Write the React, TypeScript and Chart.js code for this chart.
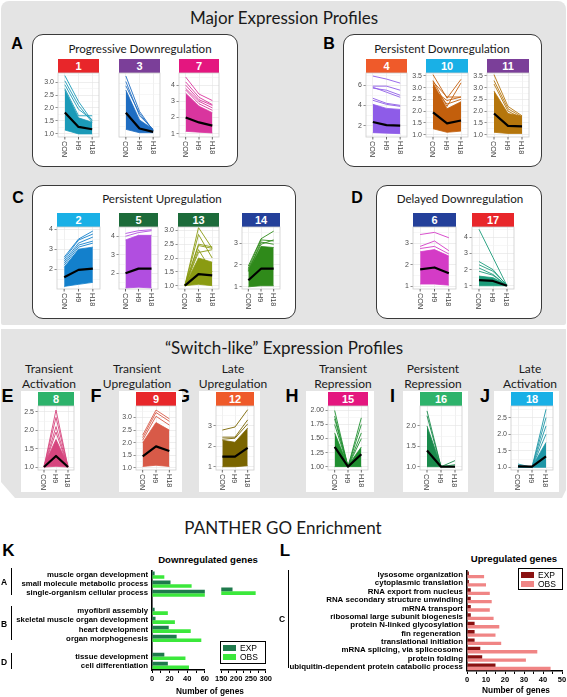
import React, { useEffect, useRef } from 'react';
import { Chart, registerables } from 'chart.js';
Chart.register(...registerables);

// ---------------- DATA ----------------
const TIMEPOINTS = ['CON', 'H9', 'H18'];
const SERIES = ['EXP', 'OBS'];

// expression clusters: envelope of the dense mass (low/high), individual outer profiles, cluster mean
const c1Low = [1.15, 1.0, 1.0];
const c1High = [2.7, 1.62, 1.45];
const c1Lines = [[3.25, 2.25, 1.5], [3.05, 2.1, 1.45], [2.75, 1.7, 1.7], [2.9, 1.95, 1.55]];
const c1Mean = [1.83, 1.27, 1.18];

const c3Low = [1.08, 1.0, 1.0];
const c3High = [2.0, 1.3, 1.08];
const c3Lines = [[2.33, 1.5, 1.05], [2.2, 1.4, 1.08], [2.1, 1.45, 1.05]];
const c3Mean = [1.47, 1.1, 1.02];

const c7Low = [1.15, 1.1, 1.05];
const c7High = [3.5, 2.7, 2.3];
const c7Lines = [[4.5, 3.45, 3.05], [4.2, 3.25, 2.8], [4.0, 3.1, 2.75], [3.8, 3.0, 2.6], [3.7, 2.85, 2.45]];
const c7Mean = [2.0, 1.7, 1.5];

const c4Low = [1.3, 1.25, 1.2];
const c4High = [4.1, 3.7, 3.6];
const c4Lines = [[6.9, 6.6, 6.2], [5.9, 5.9, 5.5], [5.7, 5.5, 5.0], [5.8, 5.3, 4.8], [4.7, 4.2, 4.0], [4.5, 4.1, 3.9]];
const c4Mean = [2.35, 2.05, 2.0];

const c10Low = [1.25, 1.1, 1.15];
const c10High = [3.2, 2.1, 2.4];
const c10Lines = [[3.55, 2.55, 3.35], [3.3, 2.2, 3.2], [3.25, 2.6, 2.6], [3.0, 2.3, 2.5], [2.9, 2.45, 2.6]];
const c10Mean = [1.95, 1.48, 1.6];

const c11Low = [1.1, 1.05, 1.05];
const c11High = [2.85, 1.9, 1.78];
const c11Lines = [[3.55, 2.2, 1.8], [3.3, 2.1, 1.75], [3.15, 2.0, 1.7]];
const c11Mean = [1.9, 1.37, 1.35];

const c2Low = [1.15, 1.25, 1.35];
const c2High = [2.1, 3.0, 3.1];
const c2Lines = [[2.6, 3.5, 3.9], [2.5, 3.45, 3.75], [2.4, 3.3, 3.6], [2.3, 3.2, 3.4], [2.2, 3.1, 3.3]];
const c2Mean = [1.6, 1.97, 2.03];

const c5Low = [1.2, 1.25, 1.2];
const c5High = [3.8, 4.05, 4.05];
const c5Lines = [[4.15, 4.3, 4.35], [4.0, 4.2, 4.3]];
const c5Mean = [2.0, 2.25, 2.25];

const c13Low = [1.0, 1.05, 1.0];
const c13High = [1.02, 2.0, 1.85];
const c13Lines = [[1.0, 3.1, 2.35], [1.0, 2.85, 2.0], [1.0, 2.5, 2.4], [1.0, 2.45, 2.35], [1.0, 2.3, 1.5], [1.0, 2.2, 2.3]];
const c13Mean = [1.0, 1.42, 1.37];

const c14Low = [1.0, 1.05, 1.05];
const c14High = [1.75, 2.85, 2.8];
const c14Lines = [[1.95, 3.2, 3.55], [1.85, 3.15, 3.1], [1.7, 3.05, 2.95], [1.8, 2.95, 3.15]];
const c14Mean = [1.3, 1.83, 1.83];

const c6Low = [1.1, 1.1, 1.05];
const c6High = [2.6, 2.7, 2.4];
const c6Lines = [[3.4, 3.5, 3.25], [2.85, 3.1, 2.65], [2.75, 2.85, 2.5]];
const c6Mean = [1.78, 1.87, 1.6];

const c17Low = [1.0, 1.0, 1.0];
const c17High = [1.6, 1.5, 1.05];
const c17Lines = [[4.5, 2.75, 1.0], [2.5, 2.0, 1.0], [2.3, 1.9, 1.05], [2.1, 1.7, 1.0], [1.9, 1.65, 1.0]];
const c17Mean = [1.35, 1.3, 1.0];

const c8Low = [1.0, 1.02, 1.0];
const c8High = [1.05, 1.75, 1.05];
const c8Lines = [[1.0, 2.55, 1.0], [1.0, 2.35, 1.0], [1.0, 2.1, 1.0], [1.0, 1.95, 1.0]];
const c8Mean = [1.0, 1.3, 1.0];

const c9Low = [1.05, 1.1, 1.05];
const c9High = [2.0, 2.8, 2.5];
const c9Lines = [[2.3, 3.3, 2.95], [2.2, 3.2, 2.85], [2.1, 3.05, 2.7]];
const c9Mean = [1.45, 1.85, 1.67];

const c12Low = [1.0, 1.0, 1.05];
const c12High = [2.3, 2.2, 2.9];
const c12Lines = [[2.8, 2.95, 3.8], [2.45, 2.45, 3.3], [2.35, 2.4, 3.1]];
const c12Mean = [1.5, 1.5, 1.93];

const c15Low = [1.0, 1.0, 1.0];
const c15High = [1.6, 1.02, 1.35];
const c15Lines = [[2.0, 1.0, 1.87], [1.9, 1.0, 1.75], [1.85, 1.0, 1.6], [1.75, 1.0, 1.5]];
const c15Mean = [1.35, 1.0, 1.22];

const c16Low = [1.0, 1.0, 1.0];
const c16High = [2.0, 1.02, 1.02];
const c16Lines = [[2.37, 1.0, 1.0], [2.25, 1.0, 1.05], [1.2, 1.0, 1.15]];
const c16Mean = [1.4, 1.0, 1.0];

const c18Low = [1.0, 1.0, 1.0];
const c18High = [1.05, 1.02, 1.75];
const c18Lines = [[1.1, 1.0, 2.75], [1.05, 1.0, 2.5], [1.02, 1.0, 2.25], [1.0, 1.0, 2.0]];
const c18Mean = [1.03, 1.02, 1.33];

// GO enrichment (K: downregulated, L: upregulated)
const kTerms = ['muscle organ development', 'small molecule metabolic process', 'single-organism cellular process', '', 'myofibril assembly', 'skeletal muscle organ development', 'heart development', 'organ morphogenesis', '', 'tissue development', 'cell differentiation'];
const kExp = [3, 21, 188, null, 3, 4, 19, 28, null, 14, 18];
const kObs = [14, 45, 266, null, 18, 26, 44, 56, null, 38, 42];

const lTerms = ['lysosome organization', 'cytoplasmic translation', 'RNA export from nucleus', 'RNA secondary structure unwinding', 'mRNA transport', 'ribosomal large subunit biogenesis', 'protein N-linked glycosylation', 'fin regeneration ', 'translational initiation', 'mRNA splicing, via spliceosome', 'protein folding', 'ubiquitin-dependent protein catabolic process'];
const lExp = [1, 1, 2, 2, 2, 2, 4, 4, 4, 7, 8, 15];
const lObs = [9, 10, 12, 13, 12, 14, 17, 15, 18, 37, 31, 44];

// ---------------- STYLE / LAYOUT ----------------
const FA = '"Liberation Sans", Arial, Helvetica, sans-serif';
const FT = 'Lato, "Open Sans", sans-serif';
const GREY = '#e4e4e4';

const RED = '#e8262a', PURPLE = '#7b3f99', MAGENTA = '#e4167f', ORANGE = '#ef5a2a', CYAN = '#19b0e6', DKGREEN = '#1c6b3a', NAVY = '#24409a', GREEN = '#2db36b';

type Panel = { id: string; low: number[]; high: number[]; lines: number[][]; mean: number[]; head: string; col: string; x0: number; x1: number; hTop: number; top: number; bottom: number; yMin: number; yMax: number; major: number; dec: number; bg?: boolean };

const RA = { hTop: 59, top: 73, bottom: 137 };
const RC = { hTop: 213, top: 227, bottom: 289 };
const RE = { hTop: 392, top: 406, bottom: 470, bg: true };

const PANELS: Panel[] = [
  { id: '1', low: c1Low, high: c1High, lines: c1Lines, mean: c1Mean, head: RED, col: '#1b9ab8', x0: 58, x1: 99, ...RA, yMin: 0.88, yMax: 3.35, major: 0.5, dec: 1 },
  { id: '3', low: c3Low, high: c3High, lines: c3Lines, mean: c3Mean, head: PURPLE, col: '#1f6dc2', x0: 119, x1: 160, ...RA, yMin: 0.9, yMax: 2.4, major: 0.5, dec: 1 },
  { id: '7', low: c7Low, high: c7High, lines: c7Lines, mean: c7Mean, head: MAGENTA, col: '#d9359e', x0: 179, x1: 219, ...RA, yMin: 0.8, yMax: 4.75, major: 1, dec: 0 },
  { id: '4', low: c4Low, high: c4High, lines: c4Lines, mean: c4Mean, head: ORANGE, col: '#8e5ce8', x0: 366, x1: 407, ...RA, yMin: 0.87, yMax: 7.2, major: 2, dec: 0 },
  { id: '10', low: c10Low, high: c10High, lines: c10Lines, mean: c10Mean, head: CYAN, col: '#c35f0c', x0: 426, x1: 468, ...RA, yMin: 0.9, yMax: 3.62, major: 0.5, dec: 1 },
  { id: '11', low: c11Low, high: c11High, lines: c11Lines, mean: c11Mean, head: PURPLE, col: '#b5760c', x0: 487, x1: 529, ...RA, yMin: 0.9, yMax: 3.62, major: 0.5, dec: 1 },
  { id: '2', low: c2Low, high: c2High, lines: c2Lines, mean: c2Mean, head: CYAN, col: '#1380cc', x0: 57, x1: 100, ...RC, yMin: 1.02, yMax: 4.1, major: 1, dec: 0 },
  { id: '5', low: c5Low, high: c5High, lines: c5Lines, mean: c5Mean, head: DKGREEN, col: '#b14ee0', x0: 119, x1: 158, ...RC, yMin: 1.15, yMax: 4.5, major: 1, dec: 0 },
  { id: '13', low: c13Low, high: c13High, lines: c13Lines, mean: c13Mean, head: DKGREEN, col: '#8a9b12', x0: 178, x1: 219, ...RC, yMin: 0.88, yMax: 3.12, major: 0.5, dec: 1 },
  { id: '14', low: c14Low, high: c14High, lines: c14Lines, mean: c14Mean, head: NAVY, col: '#2f8a1a', x0: 242, x1: 280, ...RC, yMin: 0.9, yMax: 3.74, major: 1, dec: 0 },
  { id: '6', low: c6Low, high: c6High, lines: c6Lines, mean: c6Mean, head: NAVY, col: '#d43bc6', x0: 413, x1: 456, ...RC, yMin: 0.87, yMax: 3.75, major: 1, dec: 0 },
  { id: '17', low: c17Low, high: c17High, lines: c17Lines, mean: c17Mean, head: RED, col: '#1c9c7a', x0: 472, x1: 514, ...RC, yMin: 0.8, yMax: 4.64, major: 1, dec: 0 },
  { id: '8', low: c8Low, high: c8High, lines: c8Lines, mean: c8Mean, head: GREEN, col: '#d6457e', x0: 38, x1: 74, ...RE, yMin: 0.92, yMax: 2.66, major: 0.5, dec: 1 },
  { id: '9', low: c9Low, high: c9High, lines: c9Lines, mean: c9Mean, head: RED, col: '#d85a48', x0: 136, x1: 176, ...RE, yMin: 0.91, yMax: 3.46, major: 0.5, dec: 1 },
  { id: '12', low: c12Low, high: c12High, lines: c12Lines, mean: c12Mean, head: ORANGE, col: '#7a6500', x0: 216, x1: 254, ...RE, yMin: 0.84, yMax: 3.98, major: 1, dec: 0 },
  { id: '15', low: c15Low, high: c15High, lines: c15Lines, mean: c15Mean, head: MAGENTA, col: '#1f8f30', x0: 328, x1: 368, ...RE, yMin: 0.94, yMax: 2.08, major: 0.25, dec: 2 },
  { id: '16', low: c16Low, high: c16High, lines: c16Lines, mean: c16Mean, head: GREEN, col: '#1a8a4c', x0: 420, x1: 462, ...RE, yMin: 0.92, yMax: 2.49, major: 0.5, dec: 1 },
  { id: '18', low: c18Low, high: c18High, lines: c18Lines, mean: c18Mean, head: CYAN, col: '#1f96a6', x0: 511, x1: 553, ...RE, yMin: 0.92, yMax: 2.85, major: 0.5, dec: 1 },
];

// ---------------- PLUGINS ----------------
const framePlugin = {
  id: 'frame',
  afterDatasetsDraw(chart: any) {
    const { left, top, right, bottom } = chart.chartArea;
    const ctx = chart.ctx;
    ctx.save();
    ctx.strokeStyle = '#cdcdcd';
    ctx.lineWidth = 0.8;
    ctx.strokeRect(left, top, right - left, bottom - top);
    ctx.restore();
  },
};

const xLabelPlugin = {
  id: 'xRot',
  afterDraw(chart: any) {
    const xs = chart.scales.x;
    const ctx = chart.ctx;
    const b = chart.chartArea.bottom;
    ctx.save();
    (chart.data.labels as string[]).forEach((lab, i) => {
      const x = xs.getPixelForTick(i);
      ctx.strokeStyle = '#444';
      ctx.lineWidth = 0.8;
      ctx.beginPath();
      ctx.moveTo(x, b);
      ctx.lineTo(x, b + 2.5);
      ctx.stroke();
      ctx.save();
      ctx.translate(x, b + 4);
      ctx.rotate(Math.PI / 2);
      ctx.font = '7.3px ' + FA;
      ctx.fillStyle = '#444';
      ctx.textAlign = 'left';
      ctx.textBaseline = 'middle';
      ctx.fillText(lab, 0, 0.5);
      ctx.restore();
    });
    ctx.restore();
  },
};

// ---------------- COMPONENTS ----------------
function T({ x, y, s, c = '#1a1a1a', w = 400, f = FT, a = 'c', children }: any) {
  const tx = a === 'c' ? '-50%' : a === 'r' ? '-100%' : '0';
  return (
    <div style={{ position: 'absolute', left: x, top: y, transform: `translate(${tx},-50%)`, fontSize: s, fontWeight: w, fontFamily: f, color: c, whiteSpace: 'nowrap', lineHeight: 1 }}>
      {children}
    </div>
  );
}

function Box({ x, y, w, h }: any) {
  return <div style={{ position: 'absolute', left: x, top: y, width: w, height: h, background: '#fff', border: '1.3px solid #3a3a3a', borderRadius: 11, boxSizing: 'border-box' }} />;
}

function MiniPlot({ p }: { p: Panel }) {
  const ref = useRef<HTMLCanvasElement>(null);
  const yW = 24, padT = 6, padR = 3, xH = 26;
  const pw = p.x1 - p.x0, ph = p.bottom - p.top;
  const W = yW + pw + padR, H = padT + ph + xH;
  useEffect(() => {
    const isMajor = (v: number) => Math.abs(v / p.major - Math.round(v / p.major)) < 1e-6;
    const ds: any[] = [
      { data: p.low, borderColor: p.col, borderWidth: 0.8, pointRadius: 0, fill: false, order: 3 },
      { data: p.high, borderColor: p.col, borderWidth: 0.8, backgroundColor: p.col, pointRadius: 0, fill: '-1', order: 3 },
      ...p.lines.map((l) => ({ data: l, borderColor: p.col, borderWidth: 0.9, pointRadius: 0, fill: false, order: 2 })),
      { data: p.mean, borderColor: '#000', borderWidth: 2.2, borderJoinStyle: 'round', pointRadius: 0, fill: false, order: 1 },
    ];
    const chart = new Chart(ref.current as HTMLCanvasElement, {
      type: 'line',
      data: { labels: TIMEPOINTS, datasets: ds },
      options: {
        responsive: false,
        animation: false,
        events: [],
        layout: { padding: { top: padT, right: padR, left: 0, bottom: 0 } },
        plugins: { legend: { display: false }, tooltip: { enabled: false } },
        scales: {
          x: {
            type: 'category',
            offset: true,
            ticks: { display: false },
            grid: { color: '#e6e6e6', lineWidth: 0.6, drawTicks: false },
            border: { display: false },
            afterFit: (s: any) => { s.height = xH; },
          },
          y: {
            min: p.yMin,
            max: p.yMax,
            ticks: {
              stepSize: p.major / 2,
              includeBounds: false,
              autoSkip: false,
              color: '#4d4d4d',
              padding: 1.5,
              font: { family: FA, size: 7 },
              callback: (v: any) => (isMajor(Number(v)) ? Number(v).toFixed(p.dec) : ''),
            },
            grid: {
              color: (c: any) => (c.tick && isMajor(c.tick.value) ? '#e3e3e3' : '#f1f1f1'),
              tickColor: (c: any) => (c.tick && isMajor(c.tick.value) ? '#444' : 'rgba(0,0,0,0)'),
              lineWidth: 0.6,
              tickLength: 2.5,
            },
            border: { display: false },
            afterFit: (s: any) => { s.width = yW; },
          },
        },
      } as any,
      plugins: [framePlugin, xLabelPlugin],
    });
    return () => chart.destroy();
  }, [p]);
  return (
    <>
      {p.bg && <div style={{ position: 'absolute', left: p.x0 - (p.dec === 2 ? 22 : 17), top: 391, width: p.x1 - p.x0 + (p.dec === 2 ? 22 : 17) + 6, height: 101, background: '#fff' }} />}
      <div style={{ position: 'absolute', left: p.x0, top: p.hTop, width: p.x1 - p.x0, height: p.top - p.hTop, background: p.head, color: '#fff', fontFamily: FA, fontWeight: 700, fontSize: 11, display: 'flex', alignItems: 'center', justifyContent: 'center', lineHeight: 1 }}>
        {p.id}
      </div>
      <canvas ref={ref} width={W} height={H} style={{ position: 'absolute', left: p.x0 - yW, top: p.top - padT }} />
    </>
  );
}

function GoBars({ labels, exp, obs, expCol, obsCol, left, top, w, h, yW, padL, padT, padR, xMin, xMax, step, every, showY, fs }: any) {
  const ref = useRef<HTMLCanvasElement>(null);
  useEffect(() => {
    const chart = new Chart(ref.current as HTMLCanvasElement, {
      type: 'bar',
      data: {
        labels,
        datasets: [
          { label: SERIES[0], data: exp, backgroundColor: expCol, clip: 0 },
          { label: SERIES[1], data: obs, backgroundColor: obsCol, clip: 0 },
        ],
      },
      options: {
        indexAxis: 'y',
        responsive: false,
        animation: false,
        events: [],
        layout: { padding: { left: padL, top: padT, right: padR, bottom: 0 } },
        datasets: { bar: { barPercentage: 1, categoryPercentage: 0.8 } },
        plugins: { legend: { display: false }, tooltip: { enabled: false } },
        scales: {
          y: {
            display: showY,
            ticks: { autoSkip: false, color: '#000', padding: 4, font: { family: FA, size: fs, weight: 'bold' } },
            grid: { display: false, drawTicks: false },
            border: { display: true, color: '#000', width: 1.6 },
            afterFit: (s: any) => { s.width = yW; },
          },
          x: {
            min: xMin,
            max: xMax,
            ticks: {
              stepSize: step,
              autoSkip: false,
              maxRotation: 0,
              color: '#000',
              padding: 1,
              font: { family: FA, size: 7.5, weight: 'bold' },
              callback: (v: any) => (Number(v) % every === 0 ? String(v) : ''),
            },
            grid: { display: true, drawOnChartArea: false, drawTicks: true, tickLength: 3, color: '#000', lineWidth: 1 },
            border: { display: true, color: '#000', width: 1.6 },
            afterFit: (s: any) => { s.height = 16; },
          },
        },
      } as any,
    });
    return () => chart.destroy();
  }, []);
  return <canvas ref={ref} width={w} height={h} style={{ position: 'absolute', left, top }} />;
}

function Legend({ x, y, w, h, cols }: any) {
  return (
    <div style={{ position: 'absolute', left: x, top: y, width: w, height: h, border: '1.6px solid #000', boxSizing: 'border-box', background: '#fff' }}>
      {SERIES.map((s, i) => (
        <div key={s} style={{ position: 'absolute', left: 2, top: 2 + i * 8.8, height: 8, display: 'flex', alignItems: 'center' }}>
          <span style={{ display: 'inline-block', width: 13, height: 6, background: cols[i] }} />
          <span style={{ marginLeft: 4, fontFamily: FA, fontSize: 8.5, lineHeight: 1, color: '#000' }}>{s}</span>
        </div>
      ))}
    </div>
  );
}

const VBar = ({ x, y0, y1 }: any) => <div style={{ position: 'absolute', left: x, top: y0, width: 1.8, height: y1 - y0, background: '#000' }} />;

export default function App() {
  return (
    <div style={{ position: 'absolute', left: 0, top: 0, width: 567, height: 697, background: '#fff', overflow: 'hidden' }}>
      <div style={{ position: 'absolute', left: 1, top: 1, width: 565, height: 324, background: GREY, borderRadius: '8px 8px 2px 2px' }} />
      <div style={{ position: 'absolute', left: 1, top: 329, width: 565, height: 169, background: GREY, clipPath: 'polygon(0 0, 100% 0, 100% calc(100% - 8px), calc(100% - 4px) 100%, 14px 100%, 0 calc(100% - 16px))' }} />

      <Box x={32} y={34} w={206} h={133} />
      <Box x={343} y={34} w={199} h={133} />
      <Box x={32} y={185} w={264} h={134} />
      <Box x={376} y={185} w={166} h={134} />

      <T x={284} y={17} s={17}>Major Expression Profiles</T>
      <T x={284} y={347} s={17}>“Switch-like” Expression Profiles</T>
      <T x={283} y={527} s={17}>PANTHER GO Enrichment</T>

      <T x={140} y={49} s={11.6}>Progressive Downregulation</T>
      <T x={442} y={49} s={11.6}>Persistent Downregulation</T>
      <T x={162} y={199} s={11.6}>Persistent Upregulation</T>
      <T x={460} y={199} s={11.6}>Delayed Downregulation</T>

      <T x={17} y={44} s={16} w={700} f={FA} c="#000">A</T>
      <T x={329} y={44} s={16} w={700} f={FA} c="#000">B</T>
      <T x={18} y={198} s={16} w={700} f={FA} c="#000">C</T>
      <T x={357} y={198} s={16} w={700} f={FA} c="#000">D</T>

      <T x={49} y={369} s={12}>Transient</T>
      <T x={49} y={384} s={12}>Activation</T>
      <T x={137} y={369} s={12}>Transient</T>
      <T x={137} y={384} s={12}>Upregulation</T>
      <T x={233} y={369} s={12}>Late</T>
      <T x={233} y={384} s={12}>Upregulation</T>
      <T x={343} y={369} s={12}>Transient</T>
      <T x={343} y={384} s={12}>Repression</T>
      <T x={433} y={369} s={12}>Persistent</T>
      <T x={433} y={384} s={12}>Repression</T>
      <T x={530} y={369} s={12}>Late</T>
      <T x={530} y={384} s={12}>Activation</T>

      <T x={7.5} y={396} s={18} w={700} f={FA} c="#000">E</T>
      <T x={96} y={396} s={18} w={700} f={FA} c="#000">F</T>
      <T x={183} y={396} s={18} w={700} f={FA} c="#000">G</T>
      <T x={292} y={396} s={18} w={700} f={FA} c="#000">H</T>
      <T x={392.5} y={396} s={18} w={700} f={FA} c="#000">I</T>
      <T x={485} y={396} s={18} w={700} f={FA} c="#000">J</T>

      {PANELS.map((p) => (
        <MiniPlot key={p.id} p={p} />
      ))}

      {/* K */}
      <T x={8.5} y={550} s={17} w={700} f={FA} c="#000">K</T>
      <T x={208} y={560} s={9.6} w={700} f={FA} c="#000">Downregulated genes</T>
      <GoBars labels={kTerms} exp={kExp} obs={kObs} expCol="#1f7a4c" obsCol="#3be83b" left={0} top={562} w={210} h={124} yW={152} padL={0} padT={6} padR={3} xMin={0} xMax={60} step={10} every={20} showY={true} fs={7.8} />
      <GoBars labels={kTerms} exp={kExp} obs={kObs} expCol="#1f7a4c" obsCol="#3be83b" left={214} top={562} w={59} h={124} yW={0} padL={7} padT={6} padR={7} xMin={150} xMax={300} step={25} every={50} showY={false} fs={7.8} />
      <T x={210} y={691} s={8.3} w={700} f={FA} c="#000">Number of genes</T>
      <Legend x={220} y={641} w={46} h={23} cols={['#1f7a4c', '#3be83b']} />
      <T x={4} y={582} s={8.5} w={700} f={FA} c="#000">A</T>
      <VBar x={10.5} y0={568} y1={595} />
      <T x={4} y={624} s={8.5} w={700} f={FA} c="#000">B</T>
      <VBar x={10.5} y0={606} y1={640} />
      <T x={4} y={662} s={8.5} w={700} f={FA} c="#000">D</T>
      <VBar x={10.5} y0={653} y1={669} />

      {/* L */}
      <T x={285} y={550} s={17} w={700} f={FA} c="#000">L</T>
      <T x={514} y={559} s={9.6} w={700} f={FA} c="#000">Upregulated genes</T>
      <GoBars labels={lTerms} exp={lExp} obs={lObs} expCol="#8a1111" obsCol="#f08585" left={280} top={562} w={288} h={125} yW={187} padL={0} padT={7} padR={6} xMin={0} xMax={50} step={5} every={10} showY={true} fs={7.9} />
      <T x={516} y={690} s={8.3} w={700} f={FA} c="#000">Number of genes</T>
      <Legend x={518} y={568} w={45} h={22} cols={['#8a1111', '#f08585']} />
      <T x={282} y={619} s={8.5} w={700} f={FA} c="#000">C</T>
      <VBar x={287.5} y0={570} y1={668} />
    </div>
  );
}
